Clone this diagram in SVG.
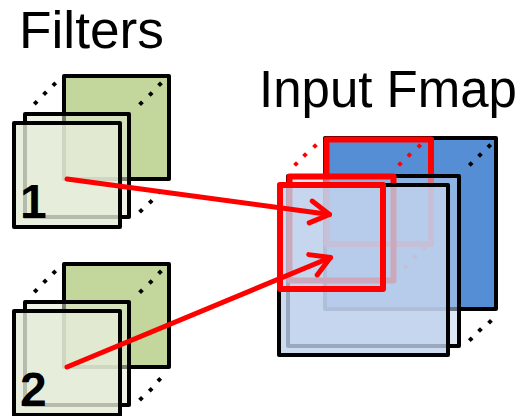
<svg xmlns="http://www.w3.org/2000/svg" width="529" height="416" viewBox="0 0 529 416">
  <style>
    .lbl { font-family: "Liberation Sans", Arial, sans-serif; fill: #000; }
    .title { font-size: 51px; }
    .num { font-size: 48px; font-weight: bold; }
    .sq { stroke: #000; stroke-width: 4; stroke-linejoin: round; }
    .g-back { fill: #c3d69b; }
    .g-mid { fill: #e4ebd6; fill-opacity: 0.55; }
    .g-front { fill: #e4ebd6; fill-opacity: 0.8; }
    .b-back { fill: #558ed5; }
    .b-mid { fill: #bfd2ec; fill-opacity: 0.55; }
    .b-front { fill: #bfd2ec; fill-opacity: 0.8; }
    .win { fill: none; stroke: #ff0000; stroke-width: 6; stroke-linejoin: round; }
    .kd { fill: #000; }
    .rd { fill: #ff0000; }
    .arrow { fill: none; stroke: #ff0000; stroke-width: 5; stroke-linecap: round; marker-end: url(#chev); }
  </style>
  <defs>
    <!-- diamond dot used for the depth (dotted) edges -->
    <path id="dot" d="M0,-2.8L2.8,0L0,2.8L-2.8,0Z"/>
    <!-- open chevron arrowhead -->
    <marker id="chev" markerUnits="userSpaceOnUse" orient="auto" refX="0" refY="0" markerWidth="1" markerHeight="1" style="overflow:visible">
      <path d="M-19,-11L0,0L-19,11" fill="none" stroke="#ff0000" stroke-width="5" stroke-linecap="round" stroke-linejoin="round"/>
    </marker>
    <!-- a stack of three filter channels -->
    <g id="filterStack">
      <rect class="sq g-back" x="64" y="76" width="105" height="103"/>
      <g class="kd">
        <use href="#dot" x="54.3" y="84.3"/><use href="#dot" x="45" y="93.3"/><use href="#dot" x="35.7" y="102.7"/>
        <use href="#dot" x="160" y="84.3"/><use href="#dot" x="150.7" y="94"/><use href="#dot" x="141" y="103.3"/>
        <use href="#dot" x="159.3" y="191.7"/><use href="#dot" x="150.7" y="201.7"/><use href="#dot" x="141" y="210.7"/>
      </g>
      <rect class="sq g-mid" x="25" y="114" width="104" height="103"/>
      <rect class="sq g-front" x="14" y="123" width="106" height="104"/>
    </g>
  </defs>

  <g id="titles">
    <text class="lbl title" x="19" y="48" textLength="145" lengthAdjust="spacingAndGlyphs">Filters</text>
    <text class="lbl title" x="259" y="107">Input Fmap</text>
  </g>

  <g id="filter1">
    <use href="#filterStack"/>
    <text class="lbl num" x="20" y="218">1</text>
  </g>

  <g id="filter2">
    <use href="#filterStack" y="188"/>
    <text class="lbl num" x="20" y="406">2</text>
  </g>

  <g id="fmap">
    <rect class="sq b-back" x="325" y="138" width="171" height="171"/>
    <rect class="win" x="326.5" y="139.5" width="104.5" height="104.5"/>
    <g class="rd">
      <use href="#dot" x="315" y="146"/><use href="#dot" x="305" y="155"/><use href="#dot" x="296" y="164"/>
      <use href="#dot" x="419.3" y="146"/><use href="#dot" x="409.3" y="155"/><use href="#dot" x="400" y="164"/>
      <use href="#dot" x="424.3" y="248.3"/><use href="#dot" x="415" y="256.7"/><use href="#dot" x="405.7" y="266.7"/>
    </g>
    <g class="kd">
      <use href="#dot" x="489.3" y="146"/><use href="#dot" x="480" y="155"/><use href="#dot" x="470.7" y="164"/>
      <use href="#dot" x="490" y="321.7"/><use href="#dot" x="480" y="330"/><use href="#dot" x="470.7" y="339.3"/>
    </g>
    <rect class="sq b-mid" x="288" y="176" width="171" height="170"/>
    <rect class="win" x="289.5" y="176.5" width="104" height="104"/>
    <rect class="sq b-front" x="279" y="185" width="169" height="170"/>
    <rect class="win" x="280" y="185" width="103" height="104"/>
  </g>

  <g id="connectors">
    <path class="arrow" d="M67,179L329.5,214.5"/>
    <path class="arrow" d="M67,367L330.5,257.5"/>
  </g>
</svg>
